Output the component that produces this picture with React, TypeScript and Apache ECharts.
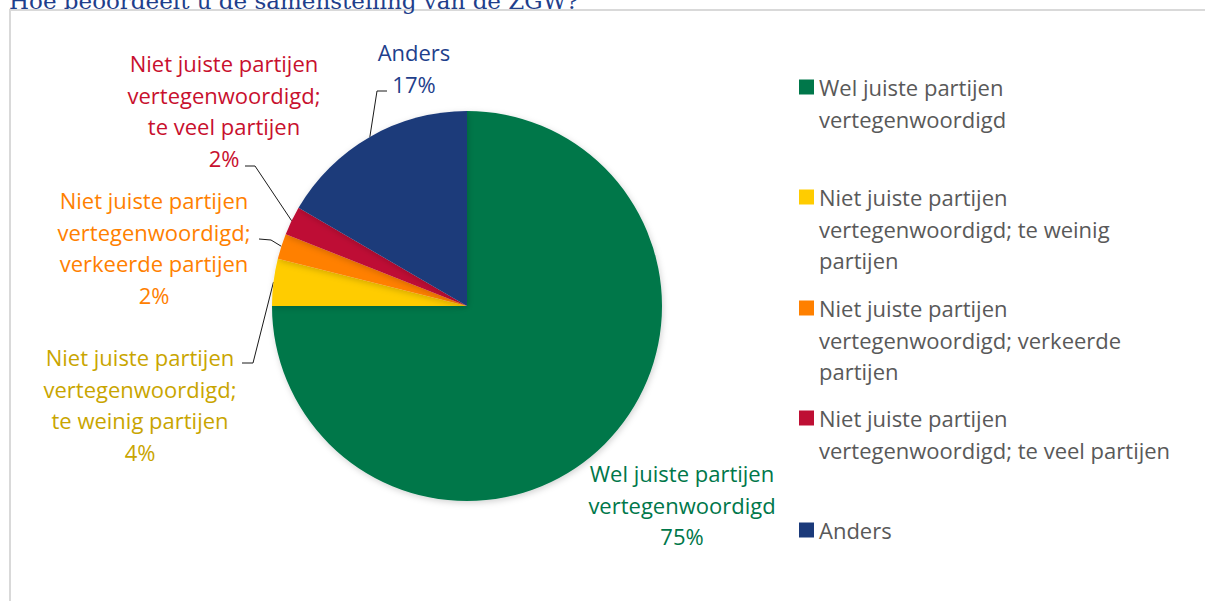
import React, { useEffect, useRef } from "react";
import * as echarts from "echarts";

const titleText = "Hoe beoordeelt u de samenstelling van de ZGW?";

const categories = [
  "Wel juiste partijen vertegenwoordigd",
  "Niet juiste partijen vertegenwoordigd; te weinig partijen",
  "Niet juiste partijen vertegenwoordigd; verkeerde partijen",
  "Niet juiste partijen vertegenwoordigd; te veel partijen",
  "Anders",
];
const values = [75.0, 3.9, 2.1, 2.4, 16.6];

const sliceLabelLines = [
  ["Wel juiste partijen", "vertegenwoordigd"],
  ["Niet juiste partijen", "vertegenwoordigd;", "te weinig partijen"],
  ["Niet juiste partijen", "vertegenwoordigd;", "verkeerde partijen"],
  ["Niet juiste partijen", "vertegenwoordigd;", "te veel partijen"],
  ["Anders"],
];
const legendLines = [
  ["Wel juiste partijen", "vertegenwoordigd"],
  ["Niet juiste partijen", "vertegenwoordigd; te weinig", "partijen"],
  ["Niet juiste partijen", "vertegenwoordigd; verkeerde", "partijen"],
  ["Niet juiste partijen", "vertegenwoordigd; te veel partijen"],
  ["Anders"],
];

const sliceColors = ["#00774A", "#FFCC00", "#FF8000", "#BE0F34", "#1B3A7A"];
const labelColors = ["#00774A", "#C9A500", "#FF8000", "#C8102E", "#1F3F8C"];

// layout (label block center-x / top-y, leader bend & attach points)
const labelPos = [
  { x: 682, y: 457 },
  { x: 140, y: 341 },
  { x: 154, y: 184 },
  { x: 224, y: 47 },
  { x: 414, y: 36 },
];
const leaders: (null | { bend: number[]; end: number[] })[] = [
  null,
  { bend: [253, 363], end: [242, 363] },
  { bend: [271, 240], end: [259, 239] },
  { bend: [255, 166], end: [245, 166] },
  { bend: [377, 91], end: [387, 91] },
];
const legendFirstLineY = [87, 197, 308, 418, 530];

const FONT = "'Open Sans', 'Noto Sans', sans-serif";
const FS = 22;
const LH = 31.7;

export default function App() {
  const ref = useRef<HTMLDivElement>(null);
  useEffect(() => {
    if (!ref.current) return;
    const chart = echarts.init(ref.current, null, { renderer: "svg" });

    const legends = categories.map((name, i) => {
      const n = legendLines[i].length;
      // blank lines above keep the icon level with the first text line
      const text = new Array(n - 1).fill("").concat(legendLines[i]).join("\n");
      return {
        data: [name],
        orient: "vertical",
        left: 799,
        top: legendFirstLineY[i] - ((2 * n - 1) * LH) / 2,
        padding: 0,
        itemWidth: 15,
        itemHeight: 15,
        icon: "rect",
        selectedMode: false,
        formatter: () => text,
        textStyle: {
          color: "#595959",
          fontSize: FS,
          lineHeight: LH,
          fontFamily: FONT,
        },
      };
    });

    chart.setOption({
      animation: false,
      graphic: [
        {
          type: "rect",
          z: -10,
          shape: { x: 10, y: 10, width: 1300, height: 700 },
          style: { fill: "none", stroke: "#d9d9d9", lineWidth: 2 },
        },
        {
          type: "text",
          x: 9,
          y: 1,
          style: {
            text: titleText,
            fill: "#1F3F8C",
            font: "23px 'DejaVu Serif', serif",
            verticalAlign: "middle",
          },
        },
      ],
      legend: legends,
      series: [
        {
          type: "pie",
          center: [467, 306],
          radius: 195,
          startAngle: 90,
          clockwise: true,
          avoidLabelOverlap: false,
          silent: true,
          itemStyle: {
            shadowBlur: 6,
            shadowColor: "rgba(0,0,0,0.18)",
            shadowOffsetX: 1,
            shadowOffsetY: 2,
          },
          label: {
            show: true,
            position: "outside",
            fontSize: FS,
            lineHeight: LH,
            fontFamily: FONT,
            align: "center",
            formatter: (p: any) =>
              sliceLabelLines[p.dataIndex].join("\n") + "\n" + Math.round(p.percent) + "%",
          },
          labelLine: {
            show: true,
            length: 10,
            length2: 10,
            lineStyle: { color: "#1a1a1a", width: 1 },
          },
          labelLayout: (params: any) => {
            const i = params.dataIndex;
            const res: any = {
              x: labelPos[i].x,
              y: labelPos[i].y,
              align: "center",
              verticalAlign: "top",
            };
            const ld = leaders[i];
            if (ld && params.labelLinePoints) {
              const p0 = params.labelLinePoints[0];
              res.labelLinePoints = [[p0[0], p0[1]], ld.bend, ld.end];
            }
            return res;
          },
          data: categories.map((name, i) => ({
            name,
            value: values[i],
            itemStyle: { color: sliceColors[i] },
            label: { color: labelColors[i] },
            labelLine: { show: leaders[i] !== null },
          })),
        },
      ],
    });
    return () => chart.dispose();
  }, []);
  return (
    <div
      ref={ref}
      style={{ position: "absolute", left: 0, top: 0, width: 1205, height: 601, background: "#fff" }}
    />
  );
}
